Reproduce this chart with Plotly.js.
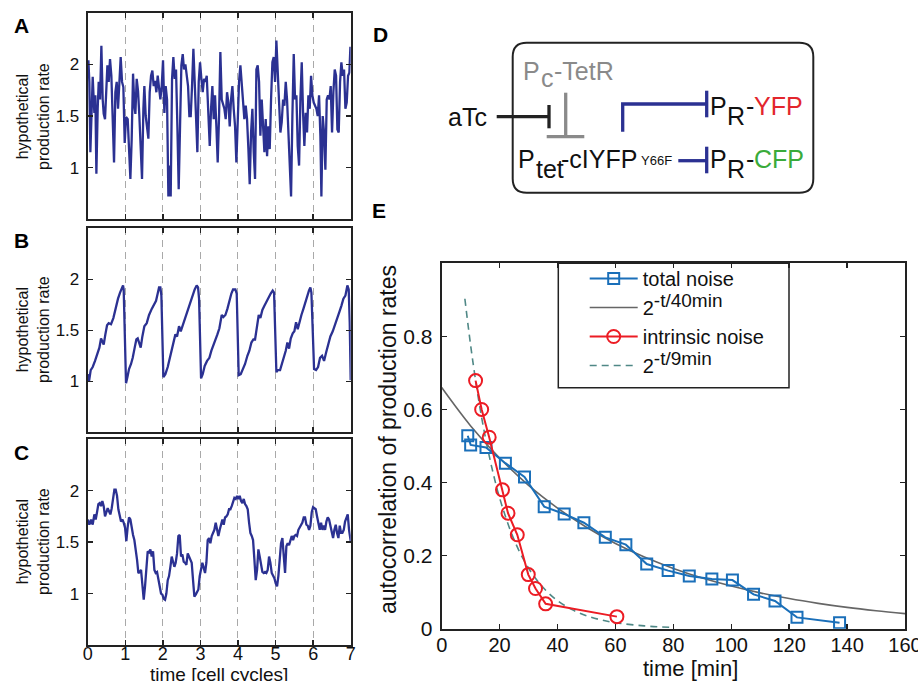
<!DOCTYPE html>
<html><head><meta charset="utf-8">
<script src="https://cdn.plot.ly/plotly-3.0.1.min.js"></script>
<style>html,body{margin:0;padding:0;background:#fff}#chart{width:918px;height:681px}</style>
</head><body><div id="chart"></div>
<script>
// ---------- Panel A (time in cell cycles, production rate) ----------
const tA = [0.018,0.044,0.071,0.106,0.133,0.160,0.177,0.204,0.231,0.266,
0.293,0.328,0.364,0.399,0.426,0.461,0.488,0.524,0.559,0.594,
0.630,0.665,0.701,0.736,0.772,0.807,0.843,0.878,0.914,0.949,
0.985,1.020,1.065,1.109,1.136,1.171,1.207,1.242,1.269,1.304,
1.340,1.375,1.411,1.446,1.482,1.508,1.544,1.579,1.615,1.650,
1.686,1.721,1.757,1.792,1.828,1.863,1.899,1.934,1.970,2.005,
2.041,2.076,2.112,2.147,2.183,2.209,2.245,2.280,2.316,2.351,
2.387,2.422,2.458,2.493,2.529,2.564,2.600,2.635,2.671,2.706,
2.742,2.777,2.813,2.848,2.884,2.919,2.955,2.990,3.026,3.061,
3.097,3.132,3.168,3.212,3.248,3.283,3.318,3.354,3.389,3.425,
3.460,3.496,3.531,3.567,3.602,3.638,3.673,3.709,3.744,3.780,
3.815,3.851,3.886,3.922,3.957,3.993,4.028,4.064,4.099,4.135,
4.170,4.206,4.241,4.277,4.312,4.348,4.383,4.419,4.454,4.490,
4.525,4.561,4.596,4.632,4.667,4.703,4.738,4.774,4.809,4.845,
4.880,4.916,4.951,4.987,5.022,5.058,5.093,5.129,5.164,5.200,
5.235,5.271,5.306,5.342,5.377,5.413,5.448,5.484,5.519,5.555,
5.590,5.626,5.661,5.697,5.732,5.767,5.803,5.838,5.874,5.909,
5.945,5.980,6.016,6.051,6.087,6.122,6.158,6.193,6.220,6.255,
6.291,6.326,6.362,6.397,6.433,6.468,6.504,6.539,6.575,6.610,
6.646,6.681,6.717,6.752,6.788,6.823,6.859,6.894,6.930,6.965,
6.992];
const yA = [2.04,1.83,1.15,1.57,1.88,1.66,1.53,1.70,0.94,1.57,
1.83,1.66,2.18,1.66,1.52,1.47,1.70,1.99,1.83,2.05,
1.89,1.50,1.05,1.73,1.83,1.57,1.83,2.07,1.83,1.78,
1.24,1.49,1.47,1.18,0.89,1.28,1.91,1.60,1.52,1.86,
1.74,1.50,1.21,0.89,1.57,1.79,1.50,1.40,1.28,1.73,
1.89,1.94,1.79,1.84,1.73,1.89,1.76,1.66,1.79,2.04,
1.53,1.79,1.66,0.72,1.02,0.72,1.86,2.07,1.86,1.95,
1.40,0.79,1.40,1.99,2.10,1.95,2.00,1.89,1.79,1.50,
1.50,1.79,2.15,1.83,1.40,1.15,1.83,2.02,1.86,1.73,
1.86,1.83,1.89,1.47,1.21,1.57,1.79,1.47,1.70,1.40,
1.05,1.50,2.12,1.66,1.60,1.57,1.47,1.73,1.63,1.40,
1.66,1.79,1.57,1.40,1.05,1.44,1.83,1.99,1.83,1.70,
1.47,1.60,1.47,1.18,0.84,1.34,1.57,1.15,0.89,1.95,
1.99,1.83,1.31,1.66,1.34,1.15,1.47,1.11,1.40,1.18,
1.66,2.02,2.07,1.83,2.23,1.92,1.73,1.34,1.44,1.66,
1.60,1.83,1.66,1.31,1.08,0.72,1.50,2.10,1.66,1.70,
1.21,1.02,1.66,2.02,1.53,1.21,1.53,1.34,1.70,1.57,
1.89,1.70,1.63,1.60,1.57,1.50,1.70,1.31,0.72,1.50,
1.34,0.98,1.66,1.70,1.66,1.79,1.34,1.73,1.95,1.89,
1.37,1.34,1.83,2.02,1.89,1.95,1.57,1.63,1.89,1.92,
2.17];

// ---------- Panel B ----------
const tB = [0.000,0.035,0.080,0.133,0.195,0.257,0.311,0.355,0.390,0.426,
0.470,0.515,0.559,0.621,0.683,0.745,0.807,0.861,0.905,0.941,
0.958,1.020,1.056,1.100,1.153,1.198,1.251,1.295,1.331,1.375,
1.411,1.455,1.508,1.571,1.633,1.704,1.766,1.819,1.863,1.899,
1.934,1.961,2.014,2.067,2.130,2.192,2.236,2.280,2.334,2.378,
2.431,2.476,2.529,2.582,2.635,2.688,2.742,2.795,2.848,2.901,
2.937,2.964,3.017,3.061,3.114,3.177,3.239,3.292,3.345,3.398,
3.452,3.505,3.567,3.611,3.665,3.718,3.771,3.824,3.869,3.931,
3.966,4.019,4.073,4.126,4.188,4.250,4.303,4.357,4.410,4.454,
4.507,4.552,4.596,4.649,4.703,4.756,4.818,4.871,4.924,4.960,
5.022,5.058,5.120,5.173,5.226,5.271,5.315,5.360,5.404,5.457,
5.501,5.546,5.590,5.634,5.688,5.741,5.794,5.847,5.891,5.927,
5.954,6.025,6.078,6.131,6.184,6.238,6.291,6.344,6.397,6.459,
6.522,6.584,6.646,6.699,6.752,6.806,6.859,6.912,6.947,6.974,
7.000];
const yB = [1.07,1.00,1.11,1.14,1.20,1.27,1.33,1.42,1.38,1.36,
1.46,1.55,1.57,1.56,1.62,1.73,1.81,1.87,1.90,1.94,
1.90,0.98,1.04,1.12,1.17,1.23,1.33,1.41,1.42,1.36,
1.33,1.44,1.54,1.57,1.65,1.71,1.76,1.79,1.86,1.92,
1.92,1.84,1.04,1.07,1.14,1.23,1.30,1.36,1.46,1.44,
1.54,1.49,1.55,1.62,1.68,1.74,1.79,1.84,1.90,1.94,
1.92,1.81,1.03,1.07,1.15,1.20,1.23,1.30,1.35,1.39,
1.46,1.52,1.65,1.63,1.65,1.71,1.79,1.86,1.90,1.90,
1.86,1.06,1.07,1.12,1.17,1.25,1.30,1.38,1.41,1.41,
1.52,1.65,1.62,1.70,1.74,1.78,1.82,1.86,1.89,1.87,
1.09,1.11,1.11,1.17,1.23,1.30,1.38,1.32,1.42,1.47,
1.49,1.58,1.51,1.58,1.65,1.71,1.78,1.84,1.89,1.92,
1.87,1.12,1.11,1.14,1.23,1.25,1.20,1.28,1.36,1.44,
1.49,1.55,1.63,1.68,1.74,1.81,1.84,1.94,1.90,1.58,
1.01];

// ---------- Panel C ----------
const tC = [0.000,0.044,0.089,0.133,0.177,0.213,0.248,0.284,0.319,0.355,
0.390,0.426,0.461,0.497,0.532,0.568,0.603,0.639,0.674,0.710,
0.745,0.781,0.816,0.852,0.887,0.923,0.958,0.994,1.029,1.065,
1.100,1.136,1.171,1.207,1.242,1.278,1.313,1.349,1.384,1.420,
1.455,1.491,1.526,1.562,1.597,1.633,1.668,1.704,1.739,1.775,
1.810,1.846,1.881,1.917,1.952,1.988,2.023,2.059,2.094,2.130,
2.165,2.201,2.236,2.272,2.307,2.342,2.378,2.413,2.449,2.484,
2.520,2.555,2.591,2.626,2.662,2.697,2.733,2.768,2.804,2.839,
2.875,2.910,2.946,2.981,3.017,3.052,3.088,3.123,3.159,3.194,
3.230,3.265,3.301,3.336,3.372,3.407,3.443,3.478,3.514,3.549,
3.585,3.620,3.656,3.691,3.727,3.762,3.798,3.833,3.869,3.904,
3.940,3.975,4.011,4.046,4.082,4.117,4.153,4.188,4.224,4.259,
4.295,4.330,4.366,4.401,4.437,4.472,4.508,4.543,4.578,4.614,
4.649,4.685,4.720,4.756,4.791,4.827,4.862,4.898,4.933,4.969,
5.004,5.040,5.075,5.111,5.146,5.182,5.217,5.253,5.288,5.324,
5.359,5.395,5.430,5.466,5.501,5.537,5.572,5.608,5.643,5.679,
5.714,5.750,5.785,5.821,5.856,5.892,5.927,5.963,5.998,6.034,
6.069,6.105,6.140,6.176,6.211,6.247,6.282,6.318,6.353,6.389,
6.424,6.460,6.495,6.531,6.566,6.602,6.637,6.673,6.708,6.744,
6.779,6.815,6.850,6.886,6.921,6.956,7.000];
const yC = [1.72,1.67,1.72,1.67,1.77,1.72,1.79,1.87,1.88,1.85,
1.90,1.85,1.75,1.80,1.83,1.80,1.77,1.83,1.93,2.01,
2.01,1.95,1.82,1.75,1.70,1.72,1.69,1.64,1.51,1.65,
1.74,1.72,1.62,1.57,1.52,1.43,1.33,1.20,1.21,1.23,
1.04,0.94,1.07,1.23,1.41,1.40,1.43,1.36,1.41,1.23,
1.20,1.21,1.13,1.04,1.00,0.99,0.95,0.94,1.00,1.13,
1.17,1.26,1.36,1.31,1.26,1.30,1.39,1.56,1.57,1.36,
1.38,1.31,1.30,1.28,1.39,1.36,1.33,1.30,1.13,0.97,
0.99,1.02,1.04,1.17,1.26,1.30,1.25,1.20,1.30,1.52,
1.54,1.49,1.56,1.59,1.62,1.69,1.61,1.56,1.62,1.67,
1.72,1.67,1.74,1.75,1.77,1.82,1.82,1.85,1.90,1.93,
1.92,1.95,1.92,1.95,1.90,1.88,1.92,1.87,1.85,1.82,
1.69,1.59,1.56,1.52,1.33,1.13,1.23,1.43,1.36,1.26,
1.21,1.20,1.21,1.20,1.23,1.36,1.30,1.20,1.17,1.15,
1.10,1.07,1.17,1.30,1.49,1.54,1.33,1.20,1.46,1.49,
1.47,1.52,1.56,1.52,1.56,1.57,1.56,1.62,1.64,1.67,
1.69,1.74,1.74,1.67,1.66,1.62,1.66,1.79,1.84,1.83,
1.82,1.75,1.70,1.62,1.69,1.62,1.66,1.62,1.70,1.74,
1.72,1.66,1.61,1.54,1.62,1.67,1.59,1.54,1.66,1.59,
1.59,1.62,1.70,1.75,1.77,1.62,1.51];

const cycleTicks = [0,1,2,3,4,5,6,7];
const rateTicks = [1, 1.5, 2];
const rateTickText = ['1', '1.5', '2'];

// ---------- Panel E ----------
const totalT = [9.0,10.0,15.3,22.0,28.6,35.4,42.3,49.1,56.5,63.6,70.8,78.2,85.5,93.3,100.4,107.7,115.1,122.7,137.4];
const totalAC = [0.528,0.503,0.496,0.453,0.415,0.334,0.314,0.290,0.250,0.230,0.177,0.159,0.144,0.136,0.133,0.094,0.076,0.031,0.016];
const intrT = [11.7,13.8,16.4,21.0,22.9,26.1,29.9,32.4,35.9,60.5];
const intrAC = [0.679,0.600,0.524,0.380,0.316,0.257,0.148,0.110,0.068,0.033];
const fit40T = [0,10,20,30,40,50,60,70,80,90,100,110,120,130,140,150,160];
const fit40V = [0.660,0.555,0.467,0.392,0.330,0.2775,0.233,0.196,0.165,0.1387,0.1167,0.0981,0.0825,0.0694,0.0583,0.0491,0.0413];
const fit9T = [8,10,12,14,16,18,20,24,28,32,36,40,45,50,55,60,70,80];
const fit9V = [0.903,0.775,0.664,0.569,0.488,0.418,0.358,0.263,0.193,0.142,0.1045,0.0768,0.0523,0.0355,0.0242,0.0165,0.0076,0.0035];
const minTicks = [0,20,40,60,80,100,120,140,160];
const acTicks = [0,0.2,0.4,0.6,0.8];
const acTickText = ['0','0.2','0.4','0.6','0.8'];
const SUP = s => '<sup><span style="font-size:19px">' + s + '</span></sup>';
const legendNames = ['total noise', '2' + SUP('-t/40min'), 'intrinsic noise', '2' + SUP('-t/9min')];

// ---------- styling ----------
const FONT = 'Liberation Sans, Arial, Helvetica, sans-serif';
const NAVY = '#2b3192';
const BLUE = '#1a6fb9';
const RED = '#ec1c24';
const GREY = '#666666';
const TEAL = '#4f8886';
const FRAME = '#222222';
const W = 918, H = 681;
const px = v => v / W;
const py = v => 1 - v / H;

const traces = [
  {x: tA, y: yA, xaxis: 'x', yaxis: 'y', type: 'scatter', mode: 'lines', line: {color: NAVY, width: 2.3}, showlegend: false},
  {x: tB, y: yB, xaxis: 'x2', yaxis: 'y2', type: 'scatter', mode: 'lines', line: {color: NAVY, width: 2.3}, showlegend: false},
  {x: tC, y: yC, xaxis: 'x3', yaxis: 'y3', type: 'scatter', mode: 'lines', line: {color: NAVY, width: 2.3}, showlegend: false},
  {x: fit40T, y: fit40V, xaxis: 'x4', yaxis: 'y4', type: 'scatter', mode: 'lines', name: legendNames[1], legendrank: 2,
   line: {color: GREY, width: 1.6, shape: 'spline'}},
  {x: fit9T, y: fit9V, xaxis: 'x4', yaxis: 'y4', type: 'scatter', mode: 'lines', name: legendNames[3], legendrank: 4,
   line: {color: TEAL, width: 1.6, dash: '7px,5px', shape: 'spline'}},
  {x: totalT, y: totalAC, xaxis: 'x4', yaxis: 'y4', type: 'scatter', mode: 'lines+markers', name: legendNames[0], legendrank: 1,
   line: {color: BLUE, width: 2}, marker: {symbol: 'square-open', size: 11, color: BLUE, line: {width: 2, color: BLUE}}},
  {x: intrT, y: intrAC, xaxis: 'x4', yaxis: 'y4', type: 'scatter', mode: 'lines+markers', name: legendNames[2], legendrank: 3,
   line: {color: RED, width: 2}, marker: {symbol: 'circle-open', size: 13, color: RED, line: {width: 2, color: RED}}}
];

function frame(extra) {
  return Object.assign({
    showline: true, linecolor: FRAME, linewidth: 2, mirror: 'ticks',
    ticks: 'inside', ticklen: 5, tickwidth: 1.5, tickcolor: FRAME,
    zeroline: false, showgrid: false, fixedrange: true
  }, extra);
}
const xdomL = [px(87.7), px(350.7)];
const cycAxis = (anchor, showLabels) => frame({
  domain: xdomL, range: [0, 7], anchor: anchor, tickvals: cycleTicks,
  showticklabels: showLabels, tickfont: {size: 18, family: FONT, color: '#111'}, ticklabelstandoff: -9,
  showgrid: true, gridcolor: '#a9a9a9', gridwidth: 1, griddash: '7px,5px'
});
const rateAxis = (anchor, y0, y1) => frame({
  domain: [py(y1), py(y0)], range: [0.5, 2.5], anchor: anchor,
  tickvals: rateTicks, ticktext: rateTickText, ticklabelstandoff: 3,
  tickfont: {size: 17, family: FONT, color: '#111'}
});

// rounded rectangle path for diagram D
function roundRect(x0, y0, x1, y1, r) {
  const P = (x, y) => px(x) + ',' + py(y);
  return 'M' + P(x0 + r, y0) + ' L' + P(x1 - r, y0) + ' Q' + P(x1, y0) + ' ' + P(x1, y0 + r) +
    ' L' + P(x1, y1 - r) + ' Q' + P(x1, y1) + ' ' + P(x1 - r, y1) +
    ' L' + P(x0 + r, y1) + ' Q' + P(x0, y1) + ' ' + P(x0, y1 - r) +
    ' L' + P(x0, y0 + r) + ' Q' + P(x0, y0) + ' ' + P(x0 + r, y0) + ' Z';
}
const seg = (x0, y0, x1, y1, color, width) => ({type: 'line', xref: 'paper', yref: 'paper',
  x0: px(x0), y0: py(y0), x1: px(x1), y1: py(y1), line: {color: color, width: width}});

const DGREY = '#8a8a8a';
const shapes = [
  {type: 'path', xref: 'paper', yref: 'paper', path: roundRect(512.7, 42.7, 813.3, 192.7, 14), line: {color: FRAME, width: 2}},
  seg(565.7, 92.7, 565.7, 136.7, DGREY, 3.3),
  seg(546.7, 136.7, 584.3, 136.7, DGREY, 3.3),
  seg(496.7, 116.7, 549, 116.7, FRAME, 3.3),
  seg(549, 105, 549, 128.3, FRAME, 3.3),
  {type: 'path', xref: 'paper', yref: 'paper',
   path: 'M' + px(622.7) + ',' + py(131.7) + ' L' + px(622.7) + ',' + py(104) + ' L' + px(706.7) + ',' + py(104),
   line: {color: NAVY, width: 3.3}},
  seg(706.7, 90.7, 706.7, 117.3, NAVY, 3.3),
  seg(678.3, 160.7, 706.7, 160.7, NAVY, 3.3),
  seg(706.7, 146.7, 706.7, 173.3, NAVY, 3.3),
  // legend frame
  {type: 'rect', xref: 'paper', yref: 'paper', x0: px(558.3), x1: px(789), y0: py(263.3), y1: py(387.7),
   line: {color: FRAME, width: 1.5}, fillcolor: 'rgba(0,0,0,0)'}
];

const ann = (text, x, y, o) => Object.assign({text: text, xref: 'paper', yref: 'paper', x: px(x), y: py(y),
  showarrow: false, xanchor: 'center', yanchor: 'middle', font: {family: FONT, size: 15, color: '#111'}}, o || {});
const bold = (t, x, y) => ann('<b>' + t + '</b>', x, y, {font: {family: FONT, size: 21, color: '#000'}});
const ytitle = (y) => ann('hypothetical<br>production rate', 33, y, {textangle: -90, font: {family: FONT, size: 16, color: '#111'}});
// diagram text piece placed by glyph left edge and baseline
const piece = (t, left, base, size, color) => ann(t, left - 1.5, base - 0.905 * size,
  {xanchor: 'left', yanchor: 'top', borderpad: 0, font: {family: FONT, size: size, color: color}});
const DS = 25;
const YFPRED = '#e3262d', CFPGREEN = '#3aab3a', BLK = '#111111';

const annotations = [
  bold('A', 21, 26), bold('B', 21, 240), bold('C', 21, 453), bold('D', 380, 35), bold('E', 379, 211),
  ytitle(117), ytitle(330), ytitle(542),
  ann('time [cell cycles]', 218.5, 662, {yanchor: 'top', font: {family: FONT, size: 19, color: '#111'}}),
  ann('time [min]', 690, 668, {font: {family: FONT, size: 22, color: '#111'}}),
  ann('autocorrelation of production rates', 388, 440, {textangle: -90, font: {family: FONT, size: 23, color: '#111'}}),
  // diagram D
  piece('P', 523.3, 78.3, DS, DGREY), piece('c', 541, 86, DS, DGREY), piece('-TetR', 554, 78.3, DS, DGREY),
  piece('aTc', 448.3, 125, DS, BLK),
  piece('P', 710, 113.3, DS, BLK), piece('R', 727.7, 123.3, DS, BLK), piece('-', 746, 113.3, DS, BLK), piece('YFP', 754, 113.3, DS, YFPRED),
  piece('P', 518.3, 166.7, DS, BLK), piece('tet', 536, 176.7, DS, BLK), piece('-cIYFP', 561, 166.7, DS, BLK), piece('Y66F', 641, 163.3, 13, BLK),
  piece('P', 710, 166.7, DS, BLK), piece('R', 727.7, 176.7, DS, BLK), piece('-', 746, 166.7, DS, BLK), piece('CFP', 754, 166.7, DS, CFPGREEN)
];

const layout = {
  width: W, height: H, autosize: false, margin: {l: 0, r: 0, t: 0, b: 0},
  paper_bgcolor: '#ffffff', plot_bgcolor: 'rgba(0,0,0,0)',
  font: {family: FONT, color: '#111'},
  showlegend: true,
  legend: {x: px(584.7), y: py(259), xanchor: 'left', yanchor: 'top', bgcolor: 'rgba(0,0,0,0)',
    borderwidth: 0, font: {family: FONT, size: 20, color: '#111'}, itemwidth: 48, tracegroupgap: 0, traceorder: 'normal'},
  xaxis: cycAxis('y', false),
  yaxis: rateAxis('x', 12.7, 219.3),
  xaxis2: cycAxis('y2', false),
  yaxis2: rateAxis('x2', 228.3, 432.3),
  xaxis3: cycAxis('y3', true),
  yaxis3: rateAxis('x3', 439.3, 645),
  xaxis4: frame({domain: [px(441.7), px(905)], range: [0, 160], anchor: 'y4', tickvals: minTicks,
    tickfont: {size: 20, family: FONT, color: '#111'}, ticklabelstandoff: -3, ticklabeloverflow: 'allow'}),
  yaxis4: frame({domain: [py(628.7), py(263.3)], range: [0, 1], anchor: 'x4', tickvals: acTicks, ticktext: acTickText,
    tickfont: {size: 21, family: FONT, color: '#111'}, ticklabelstandoff: 3}),
  shapes: shapes,
  annotations: annotations
};

Plotly.newPlot('chart', traces, layout, {staticPlot: true, displayModeBar: false});
</script>
</body></html>
